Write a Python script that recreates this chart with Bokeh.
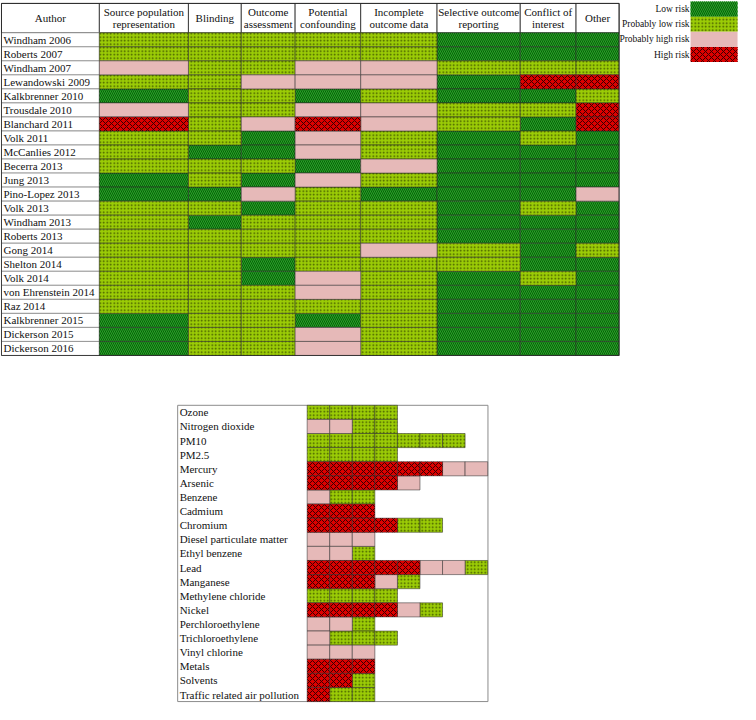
from bokeh.plotting import figure
from bokeh.models import Range1d
from bokeh.core.properties import value
from bokeh.embed import file_html
from bokeh.resources import INLINE

# ---------------- data ----------------
authors = ["Windham 2006", "Roberts 2007", "Windham 2007", "Lewandowski 2009",
           "Kalkbrenner 2010", "Trousdale 2010", "Blanchard 2011", "Volk 2011",
           "McCanlies 2012", "Becerra 2013", "Jung 2013", "Pino-Lopez  2013",
           "Volk 2013", "Windham 2013", "Roberts 2013", "Gong 2014",
           "Shelton 2014", "Volk 2014", "von Ehrenstein 2014", "Raz 2014",
           "Kalkbrenner 2015", "Dickerson 2015", "Dickerson 2016"]

domains = ["Source population\nrepresentation", "Blinding", "Outcome\nassessment",
           "Potential\nconfounding", "Incomplete\noutcome data",
           "Selective outcome\nreporting", "Conflict of\ninterest", "Other"]

source_population = ["PL", "PL", "PH", "PL", "L", "PH", "H", "PL", "PL", "PL", "L", "L",
                     "PL", "PL", "PL", "PL", "PL", "PL", "PL", "PL", "L", "L", "L"]
blinding = ["PL", "PL", "PL", "PL", "PL", "PL", "PL", "PL", "L", "PL", "PL", "L",
            "PL", "L", "PL", "PL", "PL", "PL", "PL", "PL", "PL", "PL", "PL"]
outcome_assessment = ["PL", "PL", "PL", "PH", "PL", "PL", "PH", "L", "L", "PL", "L", "PH",
                      "L", "PL", "PL", "PL", "L", "L", "PL", "PL", "PL", "PL", "PL"]
potential_confounding = ["PL", "PL", "PH", "PH", "L", "PH", "H", "PH", "PH", "L", "PH", "PL",
                         "PL", "PL", "PL", "PL", "PL", "PH", "PH", "PL", "L", "PH", "PH"]
incomplete_outcome = ["PL", "PL", "PH", "PH", "PL", "PH", "PH", "PL", "PL", "PH", "PL", "L",
                      "PL", "PL", "PL", "PH", "PL", "PL", "PL", "PL", "PL", "PL", "PL"]
selective_reporting = ["L", "L", "PL", "L", "L", "PL", "PL", "L", "L", "L", "L", "L",
                       "L", "L", "L", "PL", "PL", "L", "L", "L", "L", "L", "L"]
conflict_of_interest = ["L", "L", "PL", "H", "L", "PL", "L", "PL", "L", "L", "L", "L",
                        "PL", "L", "L", "L", "L", "PL", "L", "L", "L", "L", "L"]
other_bias = ["L", "L", "PL", "H", "PL", "H", "H", "L", "L", "L", "L", "PH",
              "L", "L", "L", "PL", "L", "L", "L", "L", "L", "L", "L"]
domain_ratings = [source_population, blinding, outcome_assessment, potential_confounding,
                  incomplete_outcome, selective_reporting, conflict_of_interest, other_bias]

pollutants = ["Ozone", "Nitrogen dioxide", "PM10", "PM2.5", "Mercury", "Arsenic", "Benzene",
              "Cadmium", "Chromium", "Diesel particulate matter", "Ethyl benzene", "Lead",
              "Manganese", "Methylene chloride", "Nickel", "Perchloroethylene",
              "Trichloroethylene", "Vinyl chlorine", "Metals", "Solvents",
              "Traffic related air pollution"]
pollutant_ratings = [
    ["PL", "PL", "PL", "PL"],
    ["PH", "PH", "PL", "PL"],
    ["PL", "PL", "PL", "PL", "PL", "PL", "PL"],
    ["PL", "PL", "PL", "PL"],
    ["H", "H", "H", "H", "H", "H", "PH", "PH"],
    ["H", "H", "H", "H", "PH"],
    ["PH", "PL", "PL"],
    ["H", "H", "H"],
    ["H", "H", "H", "H", "PL", "PL"],
    ["PH", "PH", "PH"],
    ["PH", "PH", "PL"],
    ["H", "H", "H", "H", "H", "PH", "PH", "PL"],
    ["H", "H", "H", "PH", "PL"],
    ["PL", "PL", "PL", "PL"],
    ["H", "H", "H", "H", "PH", "PL"],
    ["PH", "PH", "PL"],
    ["PH", "PL", "PL", "PL"],
    ["PH", "PH", "PH"],
    ["H", "H", "H"],
    ["H", "H", "PL"],
    ["H", "PL", "PL"],
]

risk_codes = ["L", "PL", "PH", "H"]
risk_labels = ["Low risk", "Probably low risk", "Probably high risk", "High risk"]

# ---------------- styles ----------------
STYLE = {
    "L": dict(fill_color="#26a526", hatch_pattern="left_diagonal_line",
              hatch_color="#0b5c0b", hatch_scale=4, hatch_weight=1),
    "PL": dict(fill_color="#9bcc06", hatch_pattern="dot",
               hatch_color="#435800", hatch_scale=3.5, hatch_weight=1),
    "PH": dict(fill_color="#e6b9b8"),
    "H": dict(fill_color="#dc0000", hatch_pattern="diagonal_cross",
              hatch_color="#3a0000", hatch_scale=6, hatch_weight=1),
}
FONT = value("Liberation Serif")

# ---------------- layout ----------------
col_edges = [1, 101, 192, 246, 301, 368, 446, 531, 588, 632]
head_top, head_bot = 3, 33
row_h = 14.35

box_l, box_r, box_t, box_b = 181, 498, 414, 717
cell_x0, cell_w = 313.3, 23.05
prow_h = (box_b - box_t) / len(pollutants)

p = figure(width=740, height=704, output_backend="svg", toolbar_location=None,
           x_range=Range1d(0, 756), y_range=Range1d(720, 0), min_border=0)
p.axis.visible = False
p.grid.visible = False
p.outline_line_color = None

# header cells
p.quad(left=col_edges[:-1], right=col_edges[1:], top=[head_top] * 9, bottom=[head_bot] * 9,
       fill_color="white", line_color="#222222", line_width=0.8)
hx, hy, ht = [], [], []
for i, lab in enumerate(["Author"] + domains):
    cx = (col_edges[i] + col_edges[i + 1]) / 2
    lines = lab.split("\n")
    n = len(lines)
    for k, ln in enumerate(lines):
        hx.append(cx)
        hy.append((head_top + head_bot) / 2 + (k - (n - 1) / 2) * 13)
        ht.append(ln)
p.text(x=hx, y=hy, text=ht, text_font=FONT, text_font_size=value("11px"),
       text_align="center", text_baseline="middle", text_color="#111111")

# author cells
tops = [head_bot + i * row_h for i in range(len(authors))]
bots = [t + row_h for t in tops]
p.quad(left=[col_edges[0]] * len(authors), right=[col_edges[1]] * len(authors),
       top=tops, bottom=bots, fill_color="white", line_color="#8a8a8a", line_width=0.8)
p.text(x=[col_edges[0] + 2] * len(authors), y=[t + row_h / 2 for t in tops], text=authors,
       text_font=FONT, text_font_size=value("11px"), text_align="left",
       text_baseline="middle", text_color="#111111")

# rating cells
for code in risk_codes:
    L, R, T, B = [], [], [], []
    for j, col in enumerate(domain_ratings):
        for i, r in enumerate(col):
            if r == code:
                L.append(col_edges[j + 1]); R.append(col_edges[j + 2])
                T.append(tops[i]); B.append(bots[i])
    p.quad(left=L, right=R, top=T, bottom=B, line_color="#2a2a2a", line_width=0.7,
           line_alpha=0.75, **STYLE[code])

# outer border of table
p.quad(left=[col_edges[0]], right=[col_edges[-1]], top=[head_top], bottom=[bots[-1]],
       fill_color=None, line_color="#222222", line_width=0.8)

# legend
leg_top, leg_h = 1, 15.5
for k, code in enumerate(risk_codes):
    p.quad(left=[705], right=[753], top=[leg_top + k * leg_h], bottom=[leg_top + (k + 1) * leg_h],
           line_color=None, **STYLE[code])
p.text(x=[704] * 4, y=[leg_top + (k + 0.5) * leg_h for k in range(4)], text=risk_labels,
       text_font=FONT, text_font_size=value("9.5px"), text_align="right",
       text_baseline="middle", text_color="#111111")

# ---------------- bottom chart ----------------
p.quad(left=[box_l], right=[box_r], top=[box_t], bottom=[box_b], fill_color="white",
       line_color="#8c8c8c", line_width=1)
ptops = [box_t + i * prow_h for i in range(len(pollutants))]
for code in risk_codes:
    L, R, T, B = [], [], [], []
    for i, row in enumerate(pollutant_ratings):
        for j, r in enumerate(row):
            if r == code:
                L.append(cell_x0 + j * cell_w); R.append(cell_x0 + (j + 1) * cell_w)
                T.append(ptops[i]); B.append(ptops[i] + prow_h)
    p.quad(left=L, right=R, top=T, bottom=B, line_color="#2a2a2a", line_width=0.7,
           line_alpha=0.75, **STYLE[code])
p.text(x=[box_l + 2] * len(pollutants), y=[t + prow_h / 2 for t in ptops], text=pollutants,
       text_font=FONT, text_font_size=value("11px"), text_align="left",
       text_baseline="middle", text_color="#111111")

open("out.html", "w").write(file_html(p, INLINE))
